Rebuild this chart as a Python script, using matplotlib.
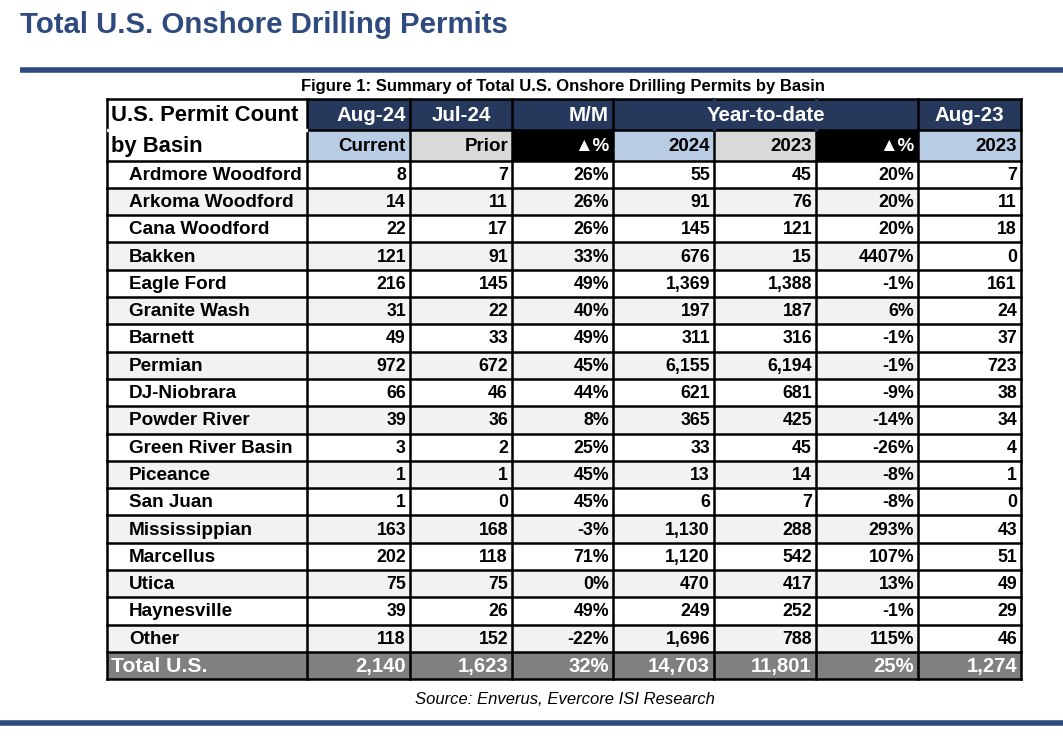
import matplotlib
matplotlib.use("Agg")
from matplotlib import pyplot as plt
from matplotlib.patches import Rectangle

# ---- data ----
basins = ["Ardmore Woodford", "Arkoma Woodford", "Cana Woodford", "Bakken", "Eagle Ford",
          "Granite Wash", "Barnett", "Permian", "DJ-Niobrara", "Powder River",
          "Green River Basin", "Piceance", "San Juan", "Mississippian", "Marcellus",
          "Utica", "Haynesville", "Other"]
aug24 = [8, 14, 22, 121, 216, 31, 49, 972, 66, 39, 3, 1, 1, 163, 202, 75, 39, 118]
jul24 = [7, 11, 17, 91, 145, 22, 33, 672, 46, 36, 2, 1, 0, 168, 118, 75, 26, 152]
mm_pct = [26, 26, 26, 33, 49, 40, 49, 45, 44, 8, 25, 45, 45, -3, 71, 0, 49, -22]
ytd24 = [55, 91, 145, 676, 1369, 197, 311, 6155, 621, 365, 33, 13, 6, 1130, 1120, 470, 249, 1696]
ytd23 = [45, 76, 121, 15, 1388, 187, 316, 6194, 681, 425, 45, 14, 7, 288, 542, 417, 252, 788]
ytd_pct = [20, 20, 20, 4407, -1, 6, -1, -1, -9, -14, -26, -8, -8, 293, 107, 13, -1, 115]
aug23 = [7, 11, 18, 0, 161, 24, 37, 723, 38, 34, 4, 1, 0, 43, 51, 49, 29, 46]
total_label = "Total U.S."
totals = [2140, 1623, 32, 14703, 11801, 25, 1274]

top_headers = ["Aug-24", "Jul-24", "M/M", "Year-to-date", "Aug-23"]
sub_headers = ["Current", "Prior", "\u25b2%", "2024", "2023", "\u25b2%", "2023"]
pct_cols = [2, 5]

# ---- style ----
NAVY = "#26395C"
BLUE = "#2E4A7E"
LBLUE = "#B8CCE4"
LGRAY = "#D9D9D9"
ALT = "#F2F2F2"
TOTAL = "#808080"
FONT = ["Liberation Sans", "DejaVu Sans"]
plt.rcParams["font.family"] = FONT

fig = plt.figure(figsize=(10.63, 7.42), dpi=100)
ax = fig.add_axes([0, 0, 1, 1])
ax.set_xlim(0, 1063)
ax.set_ylim(742, 0)
ax.axis("off")

# title + rules
ax.text(20, 25, "Total U.S. Onshore Drilling Permits", fontsize=21.2, fontweight="bold",
        color=BLUE, va="center", ha="left")
ax.plot([20, 1063], [70, 70], color=BLUE, lw=4, solid_capstyle="butt")
ax.plot([0, 1063], [723, 723], color=BLUE, lw=4, solid_capstyle="butt")
ax.text(563, 87, "Figure 1: Summary of Total U.S. Onshore Drilling Permits by Basin",
        fontsize=12, fontweight="bold", ha="center", va="center")
ax.text(565, 700, "Source: Enverus, Evercore ISI Research", fontsize=12,
        style="italic", ha="center", va="center")

# table geometry
edges = [107, 307, 410, 512, 613, 714, 816, 918, 1021]
h1_top, h2_top, body_top = 99, 130, 160.5
row_h = 27.3
nrows = len(basins)
tbl_bottom = body_top + (nrows + 1) * row_h


def fmt(v, pct=False):
    return f"{v}%" if pct else f"{v:,}"


def cell(x0, x1, y0, y1, color):
    ax.add_patch(Rectangle((x0, y0), x1 - x0, y1 - y0, facecolor=color, edgecolor="none"))


# header row 1
cell(edges[1], edges[-1], h1_top, h2_top, NAVY)
spans = [(1, 2), (2, 3), (3, 4), (4, 7), (7, 8)]
aligns = ["right", "center", "right", "center", "center"]
for (a, b), lab, al in zip(spans, top_headers, aligns):
    x = edges[b] - 4 if al == "right" else (edges[a] + edges[b]) / 2
    ax.text(x, (h1_top + h2_top) / 2 + 1, lab, color="white", fontsize=14.8,
            fontweight="bold", ha=al, va="center")

# header row 2
sub_colors = [LBLUE, LGRAY, "black", LBLUE, LGRAY, "black", LBLUE]
for j, (lab, c) in enumerate(zip(sub_headers, sub_colors)):
    cell(edges[j + 1], edges[j + 2], h2_top, body_top, c)
    ax.text(edges[j + 2] - 4, (h2_top + body_top) / 2 + 1, lab, fontsize=13.5,
            fontweight="bold", ha="right", va="center",
            color="white" if c == "black" else "black")
ax.text(111, (h1_top + h2_top) / 2 + 1, "U.S. Permit Count", fontsize=15.8, fontweight="bold",
        ha="left", va="center")
ax.text(111, (h2_top + body_top) / 2 + 1, "by Basin", fontsize=15.8, fontweight="bold",
        ha="left", va="center")

# body rows
cols = [aug24, jul24, mm_pct, ytd24, ytd23, ytd_pct, aug23]
for i, name in enumerate(basins):
    y0 = body_top + i * row_h
    yc = y0 + row_h / 2 + 1
    shade = ALT if i % 2 == 1 else "white"
    cell(edges[0], edges[-2], y0, y0 + row_h, shade)
    ax.text(129, yc, name, fontsize=13.6, fontweight="bold", ha="left", va="center")
    for j, col in enumerate(cols):
        ax.text(edges[j + 2] - 4, yc, fmt(col[i], j in pct_cols), fontsize=12.8,
                fontweight="bold", ha="right", va="center")

# total row
y0 = body_top + nrows * row_h
cell(edges[0], edges[-1], y0, tbl_bottom, TOTAL)
ax.text(111, y0 + row_h / 2 + 1, total_label, fontsize=15.3, fontweight="bold",
        color="white", ha="left", va="center")
for j, v in enumerate(totals):
    ax.text(edges[j + 2] - 4, y0 + row_h / 2 + 1, fmt(v, j in pct_cols), fontsize=14.6,
            fontweight="bold", color="white", ha="right", va="center")

# grid lines
for x in edges:
    ax.plot([x, x], [h1_top, tbl_bottom], color="black", lw=1.8)
ys = [h1_top, h2_top, body_top] + [body_top + k * row_h for k in range(1, nrows + 2)]
for y in ys:
    ax.plot([edges[0], edges[-1]], [y, y], color="black", lw=1.8)
# no split lines inside the merged header cells
ax.plot([edges[0] + 1, edges[1] - 1], [h2_top, h2_top], color="white", lw=2.4)
for k in (5, 6):
    ax.plot([edges[k], edges[k]], [h1_top + 1, h2_top - 1], color=NAVY, lw=2.4)

fig.savefig("out.png", dpi=100)
